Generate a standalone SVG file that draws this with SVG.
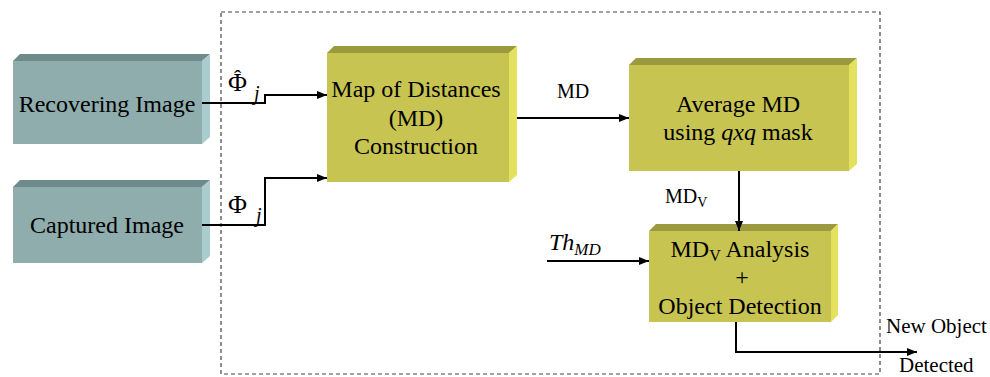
<svg xmlns="http://www.w3.org/2000/svg" width="990" height="377" viewBox="0 0 990 377">
  <defs>
    <marker id="arrow" viewBox="0 0 10 8" refX="10" refY="4" markerWidth="10" markerHeight="8" markerUnits="userSpaceOnUse" orient="auto">
      <path d="M0,0 L10,4 L0,8 Z" fill="#000"/>
    </marker>
  </defs>
  <style>
    text { font-family: "Liberation Serif", "Times New Roman", serif; fill: #000; }
    .lbl { font-size: 24px; }
    .sm { font-size: 20px; }
    .it { font-style: italic; }
    .t-front { fill: #8FADAD; }
    .t-top { fill: #6E8A8A; }
    .t-side { fill: #A9CDCF; }
    .y-front { fill: #C8C452; }
    .y-top { fill: #9C9A3E; }
    .y-side { fill: #E4E15E; }
    .wire { fill: none; stroke: #000; stroke-width: 2; }
    .frame { fill: none; stroke: #444; stroke-width: 1.2; stroke-dasharray: 4 3; }
  </style>

  <!-- dashed processing boundary -->
  <rect class="frame" x="221" y="12" width="659" height="362"/>

  <!-- input blocks -->
  <g id="recovering-image">
    <polygon class="t-top" points="13,61 20,54 210,54 202,61"/>
    <polygon class="t-side" points="202,61 210,54 210,137 202,144"/>
    <rect class="t-front" x="13" y="61" width="189" height="83"/>
    <text class="lbl" x="107" y="112" text-anchor="middle">Recovering Image</text>
  </g>

  <g id="captured-image">
    <polygon class="t-top" points="13,187 20,180 210,180 202,187"/>
    <polygon class="t-side" points="202,187 210,180 210,256 202,263"/>
    <rect class="t-front" x="13" y="187" width="189" height="76"/>
    <text class="lbl" x="107" y="233" text-anchor="middle">Captured Image</text>
  </g>

  <!-- processing blocks -->
  <g id="md-construction">
    <polygon class="y-top" points="327,53 334,46 517,46 509,53"/>
    <polygon class="y-side" points="509,53 517,46 517,175 509,182"/>
    <rect class="y-front" x="327" y="53" width="182" height="129"/>
    <text class="lbl" x="416" y="97" text-anchor="middle">Map of Distances</text>
    <text class="lbl" x="416" y="126" text-anchor="middle">(MD)</text>
    <text class="lbl" x="416" y="154" text-anchor="middle">Construction</text>
  </g>

  <g id="average-md">
    <polygon class="y-top" points="629,65 636,58 857,58 849,65"/>
    <polygon class="y-side" points="849,65 857,58 857,164 849,171"/>
    <rect class="y-front" x="629" y="65" width="220" height="106"/>
    <text class="lbl" x="738" y="112" text-anchor="middle">Average MD</text>
    <text class="lbl" x="738" y="140" text-anchor="middle">using <tspan class="it">qxq</tspan> mask</text>
  </g>

  <g id="object-detection">
    <polygon class="y-top" points="649,231 656,224 838,224 831,231"/>
    <polygon class="y-side" points="831,231 838,224 838,315 831,322"/>
    <rect class="y-front" x="649" y="231" width="182" height="91"/>
    <text class="lbl" x="740" y="257" text-anchor="middle">MD<tspan font-size="16" dy="4">V</tspan><tspan dy="-4"> Analysis</tspan></text>
    <text class="lbl" x="742" y="285" text-anchor="middle">+</text>
    <text class="lbl" x="740" y="314" text-anchor="middle">Object Detection</text>
  </g>

  <!-- connectors -->
  <g id="connectors">
    <path class="wire" d="M202,103 H265 V95 H327" marker-end="url(#arrow)"/>
    <path class="wire" d="M202,225 H265 V178 H327" marker-end="url(#arrow)"/>
    <path class="wire" d="M517,118 H629" marker-end="url(#arrow)"/>
    <path class="wire" d="M739,171 V231" marker-end="url(#arrow)"/>
    <path class="wire" d="M547,261 H649" marker-end="url(#arrow)"/>
    <path class="wire" d="M736,322 V352 H917" marker-end="url(#arrow)"/>
  </g>

  <!-- connector labels -->
  <g id="labels">
    <text x="228" y="91" font-size="26">Φ<tspan x="234" y="85" font-size="22">ˆ</tspan></text>
    <text class="sm it" x="254" y="100">j</text>

    <text x="228" y="213" font-size="26">Φ</text>
    <text class="sm it" x="256" y="222">j</text>

    <text class="sm" x="557" y="98">MD</text>
    <text class="sm" x="665" y="203">MD<tspan font-size="14" dy="4">V</tspan></text>

    <text class="it" x="549" y="250" font-size="24">Th<tspan font-size="17" dy="5">MD</tspan></text>

    <text x="886" y="333" font-size="21">New Object</text>
    <text x="899" y="372" font-size="21">Detected</text>
  </g>
</svg>
